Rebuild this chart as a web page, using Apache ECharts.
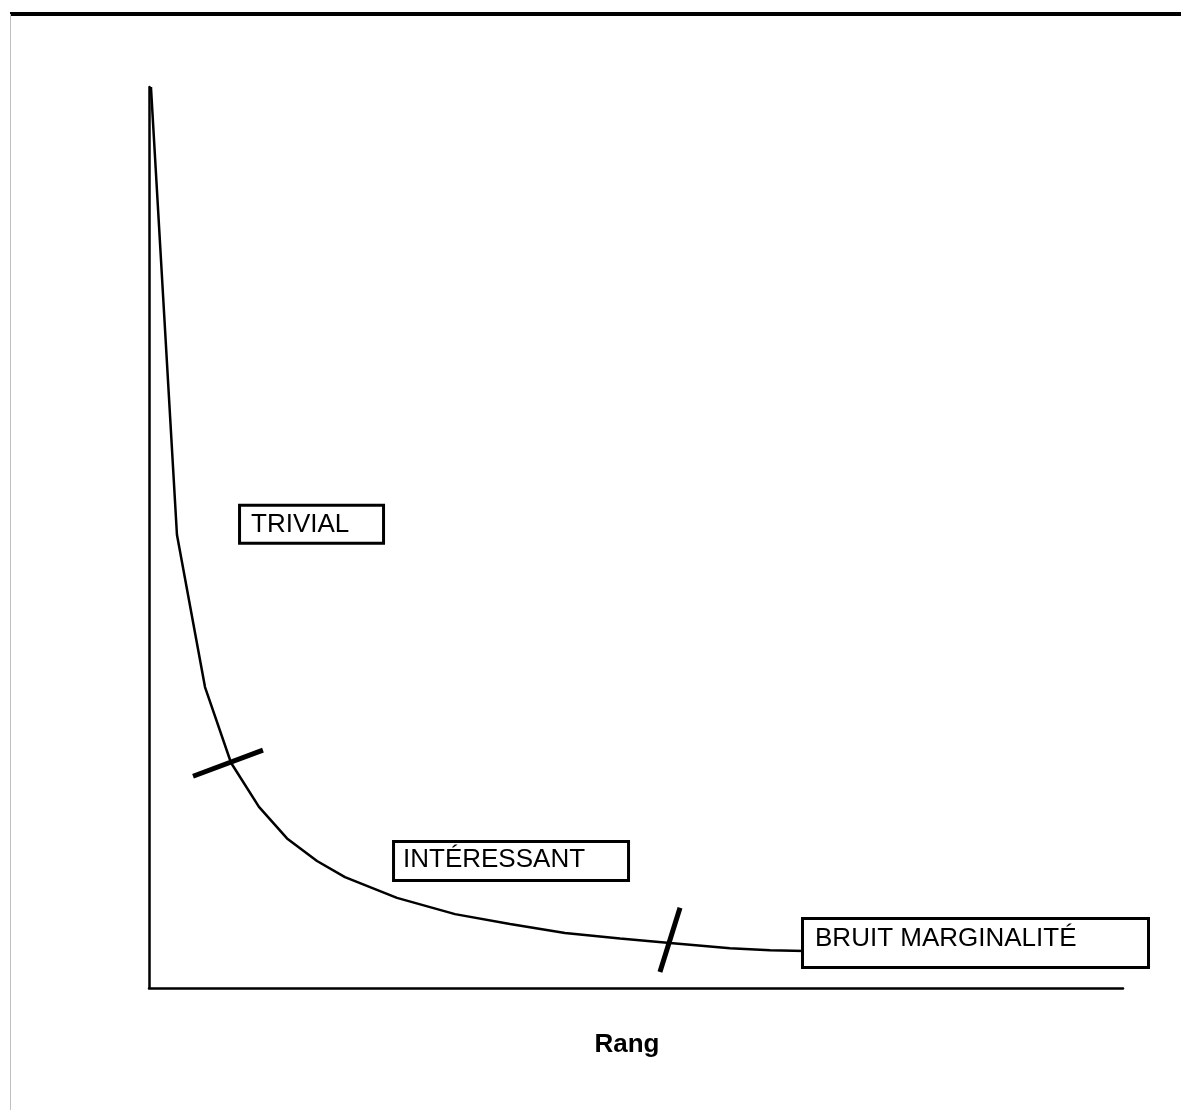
<!DOCTYPE html>
<html>
<head>
<meta charset="utf-8">
<title>Rang</title>
<script src="https://cdn.jsdelivr.net/npm/echarts@6/dist/echarts.min.js"></script>
<style>
  html, body { margin: 0; padding: 0; background: #fff; }
  #chart { width: 1181px; height: 1110px; }
</style>
</head>
<body>
<div id="chart"></div>
<script>
// courbe rang / fréquence (échelle 0-100)
const curveX = [0.2, 2.87, 5.75, 8.42, 11.29, 14.17, 17.25, 20.12, 25.46, 31.42, 37.06, 42.71, 48.36, 53.49, 59.65, 63.76, 67.35];
const curveY = [100, 50.3, 33.4, 25.0, 20.1, 16.6, 14.1, 12.3, 10.0, 8.2, 7.1, 6.1, 5.5, 5.0, 4.4, 4.2, 4.1];

// traits de coupure sur la courbe
const cut1 = [[4.52, 23.5], [11.70, 26.4]];
const cut2 = [[52.46, 1.78], [54.52, 8.9]];

// étiquettes des zones (coin haut-gauche du cadre)
const zoneNames = ['TRIVIAL', 'INTÉRESSANT', 'BRUIT MARGINALITÉ'];
const zoneX = [9.45, 25.26, 67.25];
const zoneY = [53.4, 16.09, 7.55];

const FONT = '"Liberation Sans", Arial, Helvetica, sans-serif';

const chart = echarts.init(document.getElementById('chart'), null, { renderer: 'canvas' });

const zoneBoxes = [
  { width: 131, padding: [5, 0, 4, 10] },
  { width: 224, padding: [4, 0, 6, 8] },
  { width: 332, padding: [6, 0, 14, 11] }
];

chart.setOption({
  animation: false,
  backgroundColor: '#fff',
  grid: { left: 149, top: 87, width: 974, height: 901 },
  xAxis: {
    type: 'value',
    min: 0,
    max: 100,
    name: 'Rang',
    nameLocation: 'middle',
    nameGap: 44,
    nameTextStyle: { fontFamily: FONT, fontWeight: 'bold', fontSize: 26, color: '#000', padding: [0, 18, 0, 0] },
    axisLine: { show: true, lineStyle: { color: '#000', width: 2.5 } },
    axisTick: { show: false },
    axisLabel: { show: false },
    splitLine: { show: false }
  },
  yAxis: {
    type: 'value',
    min: 0,
    max: 100,
    axisLine: { show: true, lineStyle: { color: '#000', width: 2.5 } },
    axisTick: { show: false },
    axisLabel: { show: false },
    splitLine: { show: false }
  },
  graphic: [
    // filet du haut et bord gauche de la page
    { type: 'line', shape: { x1: 10, y1: 14, x2: 1181, y2: 14 }, style: { stroke: '#000', lineWidth: 4 } },
    { type: 'line', shape: { x1: 10.5, y1: 14, x2: 10.5, y2: 1110 }, style: { stroke: '#c0c0c0', lineWidth: 1 } }
  ],
  series: [
    {
      type: 'line',
      data: curveX.map((x, i) => [x, curveY[i]]),
      symbol: 'none',
      clip: false,
      lineStyle: { color: '#000', width: 2.5 },
      z: 2
    },
    {
      type: 'line',
      data: cut1,
      symbol: 'none',
      clip: false,
      lineStyle: { color: '#000', width: 5 },
      z: 3
    },
    {
      type: 'line',
      data: cut2,
      symbol: 'none',
      clip: false,
      lineStyle: { color: '#000', width: 5 },
      z: 3
    },
    {
      type: 'scatter',
      symbolSize: 0,
      clip: false,
      z: 5,
      itemStyle: { opacity: 1, color: '#000' },
      emphasis: { disabled: true },
      data: zoneNames.map((n, i) => ({
        name: n,
        value: [zoneX[i], zoneY[i]],
        label: zoneBoxes[i]
      })),
      label: {
        show: true,
        position: [0, 0],
        align: 'left',
        verticalAlign: 'top',
        formatter: '{b}',
        fontFamily: FONT,
        fontSize: 26,
        lineHeight: 26,
        color: '#000',
        textBorderWidth: 0,
        backgroundColor: '#fff',
        borderColor: '#000',
        borderWidth: 3
      }
    }
  ]
});
</script>
</body>
</html>
